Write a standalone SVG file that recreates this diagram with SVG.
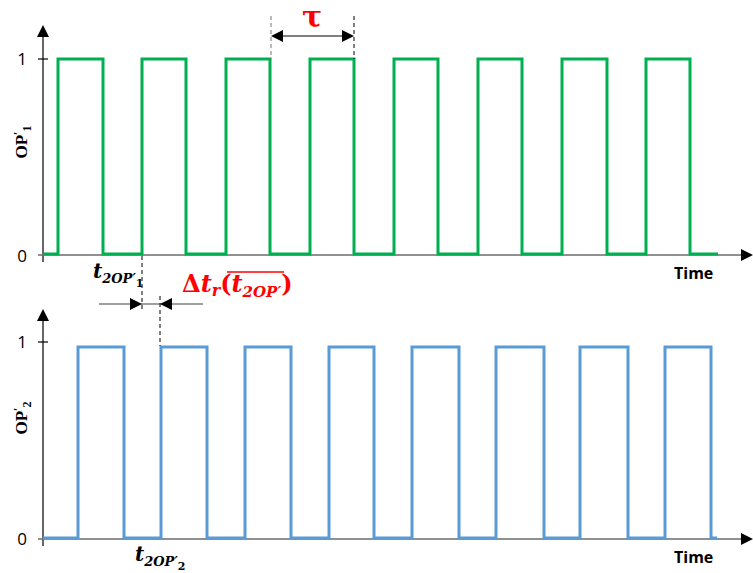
<svg xmlns="http://www.w3.org/2000/svg" width="753" height="573" viewBox="0 0 753 573">
<defs>
<style>
.axis{stroke:#000;stroke-width:1.2;fill:none}
.xaxis{stroke:#6b6b6b;stroke-width:1.3;fill:none}
.head{fill:#000}
.num{font-family:"Open Sans","Liberation Sans",sans-serif;font-size:17px;fill:#000;text-anchor:end}
.ylab{font-family:"Liberation Serif",serif;font-weight:bold;font-size:17px;fill:#000}
.time{font-family:"Open Sans","Liberation Sans",sans-serif;font-weight:bold;font-size:16px;fill:#000}
.math{font-family:"DejaVu Serif","Liberation Serif",serif;font-weight:bold;font-style:italic}
.up{font-style:normal}
.dash{stroke:#000;stroke-width:1;stroke-dasharray:4,3;fill:none}
.dim{stroke:#404040;stroke-width:1.2;fill:none}
.green{stroke:#00B050;stroke-width:3;fill:none;stroke-linejoin:miter}
.blue{stroke:#5B9BD5;stroke-width:3;fill:none;stroke-linejoin:miter}
</style>
</defs>

<g id="top-axes">
<line class="axis" x1="43" y1="36" x2="43" y2="262"/>
<polygon class="head" points="43,25 37,37 49,37"/>
<line class="xaxis" x1="38" y1="255" x2="744" y2="255"/>
<polygon class="head" points="753,255 741,249 741,261"/>
<line class="axis" x1="38" y1="59" x2="48" y2="59"/>
<text class="num" x="27" y="65">1</text>
<text class="num" x="27" y="262">0</text>
<text class="ylab" transform="translate(27,142) rotate(-90)" text-anchor="middle">OP<tspan dy="-5" font-size="12">′</tspan><tspan dy="9" font-size="12">1</tspan></text>
<text class="time" x="674" y="279">Time</text>
</g>

<g id="top-wave">
<path class="green" d="M43,254 H58 V59 H103 V254 H142 V59 H186 V254 H226 V59 H270 V254 H310 V59 H354 V254 H394 V59 H438 V254 H478 V59 H522 V254 H562 V59 H607 V254 H646 V59 H690 V254 H718"/>
</g>

<g id="bottom-axes">
<line class="axis" x1="43" y1="320" x2="43" y2="546"/>
<polygon class="head" points="43,309 37,321 49,321"/>
<line class="xaxis" x1="38" y1="539" x2="744" y2="539"/>
<polygon class="head" points="753,539 741,533 741,545"/>
<line class="axis" x1="38" y1="342" x2="48" y2="342"/>
<text class="num" x="27" y="348">1</text>
<text class="num" x="27" y="545">0</text>
<text class="ylab" transform="translate(27,418) rotate(-90)" text-anchor="middle">OP<tspan dy="-5" font-size="12">′</tspan><tspan dy="9" font-size="12">2</tspan></text>
<text class="time" x="674" y="563">Time</text>
</g>

<g id="bottom-wave">
<path class="blue" d="M43,538 H78 V347 H124 V538 H161 V347 H207 V538 H245 V347 H291 V538 H329 V347 H374 V538 H412 V347 H459 V538 H496 V347 H544 V538 H580 V347 H628 V538 H665 V347 H711 V538 H717"/>
</g>

<g id="connectors">
<line class="dash" x1="271" y1="16" x2="271" y2="59" style="stroke:#777"/>
<line class="dash" x1="354" y1="16" x2="354" y2="59"/>
<line class="axis" x1="282" y1="36" x2="343" y2="36"/>
<polygon class="head" points="271,36 283,30 283,42"/>
<polygon class="head" points="354,36 342,30 342,42"/>

<line class="dash" x1="142" y1="256" x2="142" y2="312"/>
<line class="dash" x1="160" y1="296" x2="160" y2="346"/>
<line class="dim" x1="99" y1="304" x2="203" y2="304"/>
<polygon class="head" points="142,304 130,298 130,310"/>
<polygon class="head" points="160,304 172,298 172,310"/>
</g>

<g id="labels">
<text class="math up" x="312" y="27" font-size="30" fill="#FF0000" text-anchor="middle">τ</text>
<text class="math" x="93" y="278" font-size="20" fill="#000">t<tspan font-size="13" dy="5">2OP′</tspan><tspan class="up" font-size="11" dy="4">1</tspan></text>
<text class="math" x="182" y="292" font-size="24" fill="#FF0000"><tspan class="up">Δ</tspan>t<tspan font-size="16" dy="4">r</tspan><tspan class="up" dy="-4">(</tspan>t<tspan font-size="15" dy="5">2OP′</tspan><tspan class="up" dy="-5">)</tspan></text>
<line x1="227" y1="272" x2="284" y2="272" stroke="#FF0000" stroke-width="1.5"/>
<text class="math" x="135" y="561" font-size="20" fill="#000">t<tspan font-size="13" dy="5">2OP′</tspan><tspan class="up" font-size="11" dy="4">2</tspan></text>
</g>
</svg>
